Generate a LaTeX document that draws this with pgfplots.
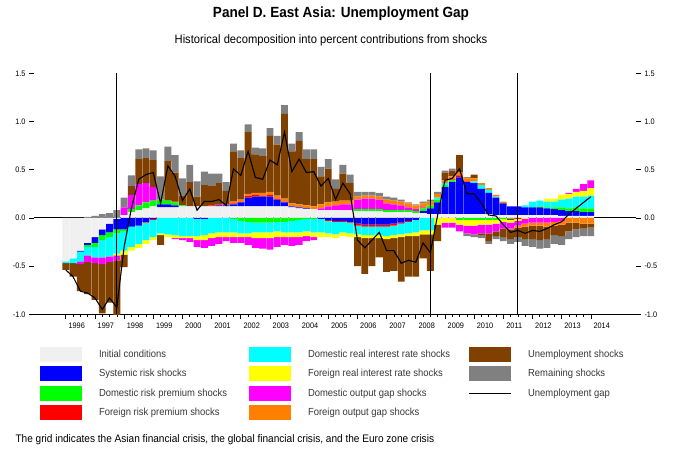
\documentclass[border=0pt]{standalone}
\usepackage{pgfplots}
\pgfplotsset{compat=1.18}
\usepackage{pgfplotstable}
\usepackage{fontspec}
\setmainfont{Liberation Sans}[FakeStretch=0.92]

\definecolor{cIC}{RGB}{240,240,240}
\definecolor{cSR}{RGB}{0,0,255}
\definecolor{cDRP}{RGB}{0,255,0}
\definecolor{cFRP}{RGB}{255,0,0}
\definecolor{cDRI}{RGB}{0,255,255}
\definecolor{cFRI}{RGB}{255,255,0}
\definecolor{cDOG}{RGB}{255,0,255}
\definecolor{cFOG}{RGB}{255,128,0}
\definecolor{cUN}{RGB}{128,64,0}
\definecolor{cREM}{RGB}{128,128,128}
\definecolor{legtext}{RGB}{55,55,55}

% quarterly contributions, t=0 is 1996Q1; signed values, gap = unemployment gap
\pgfplotstableread{
t IC SR DRP FRP DRI FRI DOG FOG UN REM gap
0 -0.45 0 0 0 -0.02 0 0 0 -0.07 0 -0.54
1 -0.42 0 0 0 -0.05 0 0 0 -0.14 0 -0.61
2 -0.34 -0.01 0 0 -0.10 0 -0.03 0 -0.28 0 -0.76
3 -0.26 -0.02 -0.02 0 -0.09 0 -0.07 0 -0.33 0.01 -0.78
4 -0.20 -0.06 -0.04 0 -0.11 0 -0.06 0 -0.38 0.02 -0.83
5 -0.12 -0.06 -0.05 0 -0.18 0 -0.07 0 -0.51 0.04 -0.95
6 -0.06 -0.09 -0.05 0 -0.20 0 -0.06 0 -0.42 0.05 -0.83
7 -0.01 -0.11 -0.04 0 -0.21 -0.02 -0.05 0 -0.57 0.08 -0.93
8 0.03 -0.12 -0.02 0 -0.20 -0.04 0.08 0 -0.13 0.10 -0.30
9 0.06 -0.09 0.03 0 -0.21 -0.04 0.15 0 0.09 0.11 0.10
10 0.08 -0.08 0.05 0 -0.19 -0.04 0.22 0 0.26 0.10 0.40
11 0.10 -0.04 0.06 -0.01 -0.18 -0.04 0.20 0 0.26 0.10 0.45
12 0.12 -0.01 0.06 -0.01 -0.18 -0.03 0.14 0 0.28 0.10 0.47
13 0.11 0.03 0.05 0 -0.16 -0.02 0 0 -0.10 0.24 0.15
14 0.11 0.03 0.04 0 -0.17 -0.03 0 0 0.41 0.15 0.54
15 0.11 0.02 0.03 0.01 -0.18 -0.03 -0.01 0 0.30 0.18 0.43
16 0.12 0 0.01 0 -0.19 -0.02 -0.02 0 0.10 0.18 0.18
17 0.12 0 0 0 -0.19 -0.02 -0.04 0 0.25 0.18 0.30
18 0.12 -0.01 0 0 -0.18 -0.04 -0.07 0 0.10 0.16 0.08
19 0.12 -0.01 0 0 -0.17 -0.05 -0.08 0 0.22 0.14 0.17
20 0.12 0 0 0.01 -0.16 -0.05 -0.08 0 0.20 0.13 0.17
21 0.12 0.01 0 0.01 -0.15 -0.05 -0.07 0 0.22 0.10 0.19
22 0.12 0.01 0 0.01 -0.15 -0.05 -0.04 0 0.14 0.09 0.13
23 0.12 0.02 -0.01 0.01 -0.14 -0.05 -0.06 0.02 0.52 0.08 0.51
24 0.12 0.04 -0.03 0.01 -0.13 -0.04 -0.06 0.02 0.43 0.08 0.44
25 0.12 0.09 -0.04 0.02 -0.12 -0.04 -0.08 0.02 0.64 0.08 0.69
26 0.12 0.10 -0.05 0.02 -0.10 -0.06 -0.10 0.02 0.40 0.07 0.42
27 0.12 0.10 -0.05 0.01 -0.10 -0.06 -0.11 0.03 0.38 0.08 0.40
28 0.12 0.10 -0.05 0.02 -0.10 -0.06 -0.12 0.03 0.58 0.08 0.60
29 0.12 0.07 -0.04 0.01 -0.10 -0.06 -0.10 0.03 0.53 0.09 0.55
30 0.12 0.04 -0.04 0.01 -0.11 -0.05 -0.08 0.03 0.88 0.09 0.89
31 0.11 0.01 -0.03 0 -0.12 -0.05 -0.09 0.03 0.54 0.08 0.48
32 0.10 0.01 -0.02 0 -0.13 -0.05 -0.08 0.03 0.66 0.09 0.61
33 0.09 0.01 -0.01 0 -0.13 -0.05 -0.05 0.03 0.48 0.10 0.47
34 0.09 0 -0.01 0 -0.14 -0.05 -0.03 0.03 0.49 0.10 0.48
35 0.08 -0.01 0 0 -0.14 -0.05 0.02 0.04 0.29 0.10 0.33
36 0.08 -0.02 0 -0.01 -0.13 -0.04 0.04 0.04 0.35 0.10 0.41
37 0.08 -0.03 0 -0.01 -0.13 -0.04 0.05 0.04 0.13 0.10 0.19
38 0.08 -0.03 0 -0.01 -0.11 -0.04 0.06 0.04 0.28 0.09 0.36
39 0.08 -0.04 0 -0.01 -0.11 -0.04 0.06 0.04 0.18 0.09 0.25
40 0.07 -0.06 0.02 -0.02 -0.09 -0.03 0.10 0.03 -0.30 0.05 -0.23
41 0.07 -0.07 0.02 -0.02 -0.09 -0.03 0.11 0.03 -0.37 0.04 -0.31
42 0.07 -0.07 0.02 -0.02 -0.09 -0.03 0.11 0.03 -0.29 0.04 -0.23
43 0.07 -0.07 0.02 -0.02 -0.09 -0.03 0.10 0.03 -0.20 0.04 -0.15
44 0.06 -0.07 0.02 -0.02 -0.10 -0.03 0.07 0.04 -0.34 0.03 -0.34
45 0.06 -0.06 0.02 -0.02 -0.10 -0.03 0.06 0.04 -0.34 0.03 -0.34
46 0.06 -0.05 0.02 -0.01 -0.11 -0.03 0.05 0.04 -0.46 0.02 -0.47
47 0.06 -0.03 0.02 -0.01 -0.12 -0.03 0.03 0.04 -0.42 0.01 -0.44
48 0.05 -0.02 0.02 0 -0.13 -0.04 0.02 0.04 -0.42 0.01 -0.46
49 0.05 0.02 0.03 0 -0.13 -0.04 0.01 0.04 -0.25 0.02 -0.26
50 0.04 0.06 0.03 0 -0.13 -0.04 0 0.04 -0.38 0.02 -0.36
51 0.04 0.12 0.03 0 0.02 -0.07 0 0.04 -0.17 0.02 0.03
52 0.04 0.28 0.02 0 0.02 -0.05 -0.05 0.03 0.08 0.02 0.39
53 0.04 0.33 0.02 0.01 0 -0.05 -0.05 0.03 0.06 0.02 0.41
54 0.04 0.38 -0.02 0.02 0 -0.05 -0.07 0.03 0.18 0 0.51
55 0.04 0.33 -0.02 0.01 0 -0.06 -0.08 0.03 0.01 -0.03 0.25
56 0.04 0.32 -0.02 0 0.02 -0.06 -0.09 0.03 0.04 -0.03 0.25
57 0.04 0.26 -0.02 0 0.04 -0.05 -0.09 0.02 -0.02 -0.03 0.15
58 0.04 0.22 -0.02 0 0.03 -0.05 -0.09 0.02 -0.08 -0.03 0.03
59 0.03 0.18 -0.02 0 0.01 -0.04 -0.08 0.02 -0.05 -0.03 0.02
60 0.03 0.12 -0.01 0 0 -0.03 -0.07 0.02 -0.09 -0.04 -0.07
61 0.03 0.09 -0.01 -0.01 0 -0.03 -0.06 -0.01 -0.10 -0.05 -0.15
62 0.03 0.09 0 -0.01 0 -0.02 -0.05 -0.02 -0.10 -0.05 -0.13
63 0.03 0.08 0 0 0.02 -0.01 -0.05 -0.03 -0.13 -0.07 -0.16
64 0.03 0.08 0 0 0.06 0 -0.05 -0.03 -0.14 -0.08 -0.13
65 0.03 0.08 0.01 0 0.06 0 -0.05 -0.03 -0.15 -0.09 -0.14
66 0.03 0.07 0.01 0 0.06 0.03 -0.05 -0.04 -0.13 -0.09 -0.11
67 0.03 0.06 0.02 0 0.06 0.03 -0.04 -0.04 -0.10 -0.09 -0.07
68 0.02 0.06 0.03 0 0.08 0.05 -0.03 -0.04 -0.12 -0.09 -0.04
69 0.02 0.05 0.03 0 0.10 0.05 0.01 -0.05 -0.09 -0.08 0.04
70 0.02 0.05 0.04 0 0.11 0.05 0.03 -0.05 -0.07 -0.08 0.10
71 0.02 0.04 0.04 0 0.12 0.06 0.07 -0.06 -0.05 -0.08 0.16
72 0.02 0.04 0.04 0 0.13 0.08 0.08 -0.06 -0.04 -0.09 0.22
}\contrib

\pgfplotsset{
  panel/.style={
    width=602bp, height=241bp, scale only axis,
    xmin=-4.36, xmax=78.2, ymin=-1, ymax=1.5,
    anchor=south west, at={(34bp,136.7bp)},
  },
  bars/.style={panel, hide axis, ybar stacked, bar width=0.94},
  sw/.style={legend image code/.code={\fill[##1] (0bp,-7.5bp) rectangle (42bp,7.5bp);}},
  ln/.style={legend image code/.code={\draw[##1] (0bp,0bp) -- (42bp,0bp);}},
  yfmt/.style={
    ytick={-1,-0.5,0,0.5,1,1.5},
    yticklabel style={/pgf/number format/.cd, fixed, fixed zerofill, precision=1},
  },
}

\begin{document}
\begin{tikzpicture}
\useasboundingbox (0,0) rectangle (685bp,451bp);

% frame: x axis, ticks, zero line, left labels
\begin{axis}[panel,
  axis x line*=bottom, axis y line*=left,
  axis line style={-, line width=0.8bp},
  y axis line style={draw=none},
  tick align=outside, major tick length=5bp, minor tick length=2.5bp,
  tick style={black, line width=0.6bp},
  xtick={0,4,...,72}, xticklabels={}, minor x tick num=3,
  extra x ticks={1.5,5.5,9.5,13.5,17.5,21.5,25.5,29.5,33.5,37.5,41.5,45.5,49.5,53.5,57.5,61.5,65.5,69.5,73.5},
  extra x tick labels={1996,1997,1998,1999,2000,2001,2002,2003,2004,2005,2006,2007,2008,2009,2010,2011,2012,2013,2014},
  extra x tick style={tick style={draw=none}},
  yfmt,
  tick label style={font=\fontsize{8}{9}\selectfont},
  /pgf/number format/assume math mode=true,
]
\draw[black, line width=0.9bp] (axis cs:-4.36,0) -- (axis cs:78.2,0);
\end{axis}

% positive contributions
\begin{axis}[bars]
\addplot[fill=cIC, draw=none] table[x=t, y expr={max(\thisrow{IC},0)}] {\contrib};
\addplot[fill=cSR, draw=none] table[x=t, y expr={max(\thisrow{SR},0)}] {\contrib};
\addplot[fill=cDRP, draw=none] table[x=t, y expr={max(\thisrow{DRP},0)}] {\contrib};
\addplot[fill=cFRP, draw=none] table[x=t, y expr={max(\thisrow{FRP},0)}] {\contrib};
\addplot[fill=cDRI, draw=none] table[x=t, y expr={max(\thisrow{DRI},0)}] {\contrib};
\addplot[fill=cFRI, draw=none] table[x=t, y expr={max(\thisrow{FRI},0)}] {\contrib};
\addplot[fill=cDOG, draw=none] table[x=t, y expr={max(\thisrow{DOG},0)}] {\contrib};
\addplot[fill=cFOG, draw=none] table[x=t, y expr={max(\thisrow{FOG},0)}] {\contrib};
\addplot[fill=cUN, draw=none] table[x=t, y expr={max(\thisrow{UN},0)}] {\contrib};
\addplot[fill=cREM, draw=none] table[x=t, y expr={max(\thisrow{REM},0)}] {\contrib};
\end{axis}

% negative contributions
\begin{axis}[bars]
\addplot[fill=cIC, draw=none] table[x=t, y expr={min(\thisrow{IC},0)}] {\contrib};
\addplot[fill=cSR, draw=none] table[x=t, y expr={min(\thisrow{SR},0)}] {\contrib};
\addplot[fill=cDRP, draw=none] table[x=t, y expr={min(\thisrow{DRP},0)}] {\contrib};
\addplot[fill=cFRP, draw=none] table[x=t, y expr={min(\thisrow{FRP},0)}] {\contrib};
\addplot[fill=cDRI, draw=none] table[x=t, y expr={min(\thisrow{DRI},0)}] {\contrib};
\addplot[fill=cFRI, draw=none] table[x=t, y expr={min(\thisrow{FRI},0)}] {\contrib};
\addplot[fill=cDOG, draw=none] table[x=t, y expr={min(\thisrow{DOG},0)}] {\contrib};
\addplot[fill=cFOG, draw=none] table[x=t, y expr={min(\thisrow{FOG},0)}] {\contrib};
\addplot[fill=cUN, draw=none] table[x=t, y expr={min(\thisrow{UN},0)}] {\contrib};
\addplot[fill=cREM, draw=none] table[x=t, y expr={min(\thisrow{REM},0)}] {\contrib};
\end{axis}

% gap line, crisis lines, right labels, legend
\begin{axis}[panel,
  hide x axis, axis y line*=right,
  y axis line style={draw=none},
  tick align=outside, major tick length=5bp,
  tick style={black, line width=0.6bp},
  yfmt,
  tick label style={font=\fontsize{8}{9}\selectfont},
  /pgf/number format/assume math mode=true,
  legend columns=4, transpose legend,
  legend cell align=left,
  legend style={at={(0,0)}, anchor=north west, xshift=6bp, yshift=-32.7bp,
    draw=none, fill=none, inner sep=0pt, outer sep=0pt,
    column sep=0pt, row sep=4.4bp,
    nodes={inner sep=0pt, text=legtext, font=\fontsize{10.3}{12}\selectfont}},
]
\draw[black, line width=1bp] (axis cs:7,-1) -- (axis cs:7,1.5);
\draw[black, line width=1bp] (axis cs:50,-1) -- (axis cs:50,1.5);
\draw[black, line width=1bp] (axis cs:62,-1) -- (axis cs:62,1.5);
\addlegendimage{sw, fill=cIC, draw=none}
\addlegendentry{\hspace{17bp}\makebox[150bp][l]{Initial conditions}}
\addlegendimage{sw, fill=cSR, draw=none}
\addlegendentry{\hspace{17bp}\makebox[150bp][l]{Systemic risk shocks}}
\addlegendimage{sw, fill=cDRP, draw=none}
\addlegendentry{\hspace{17bp}\makebox[150bp][l]{Domestic risk premium shocks}}
\addlegendimage{sw, fill=cFRP, draw=none}
\addlegendentry{\hspace{17bp}\makebox[150bp][l]{Foreign risk premium shocks}}
\addlegendimage{sw, fill=cDRI, draw=none}
\addlegendentry{\hspace{17bp}\makebox[160bp][l]{Domestic real interest rate shocks}}
\addlegendimage{sw, fill=cFRI, draw=none}
\addlegendentry{\hspace{17bp}\makebox[160bp][l]{Foreign real interest rate shocks}}
\addlegendimage{sw, fill=cDOG, draw=none}
\addlegendentry{\hspace{17bp}\makebox[160bp][l]{Domestic output gap shocks}}
\addlegendimage{sw, fill=cFOG, draw=none}
\addlegendentry{\hspace{17bp}\makebox[160bp][l]{Foreign output gap shocks}}
\addlegendimage{sw, fill=cUN, draw=none}
\addlegendentry{\hspace{17bp}Unemployment shocks}
\addlegendimage{sw, fill=cREM, draw=none}
\addlegendentry{\hspace{17bp}Remaining shocks}
\addplot[black, line width=1.1bp, ln] table[x=t, y=gap] {\contrib};
\addlegendentry{\hspace{17bp}Unemployment gap}
\end{axis}

\node[font=\bfseries\fontsize{14.8}{17}\selectfont] at (341bp,437bp) {Panel D. East Asia: Unemployment Gap};
\node[font=\fontsize{12.2}{14}\selectfont] at (331bp,411bp) {Historical decomposition into percent contributions from shocks};
\node[anchor=west, font=\fontsize{11}{13}\selectfont] at (12bp,11bp) {The grid indicates the Asian financial crisis, the global financial crisis, and the Euro zone crisis};
\end{tikzpicture}
\end{document}
